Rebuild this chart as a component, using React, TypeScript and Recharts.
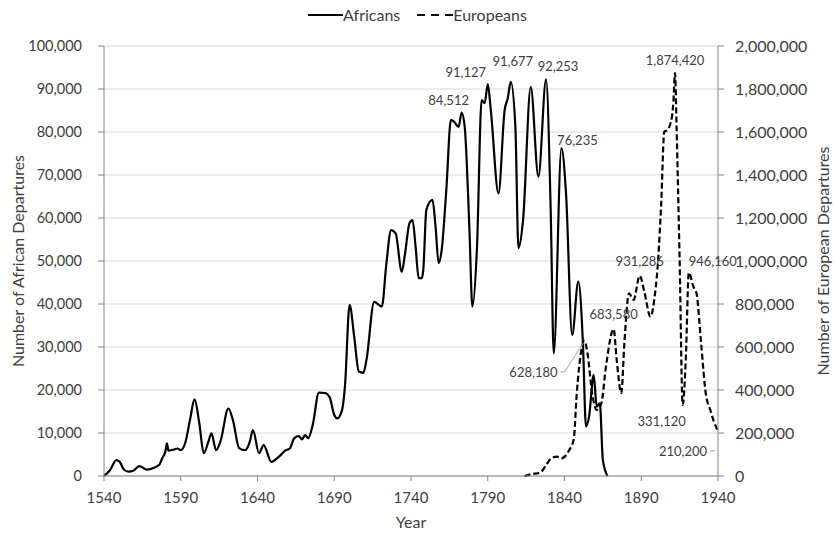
import React from 'react';
import { LineChart, Line, XAxis, YAxis, CartesianGrid, Legend, Label } from 'recharts';

// African departures (left axis)
const africanYears = [
  1540, 1544, 1548, 1550, 1553, 1556, 1559, 1563, 1568, 1573, 1576, 1578, 1580, 1581, 1582, 1585, 1588, 1590,
  1593, 1596, 1599, 1602, 1605, 1608, 1610, 1613, 1616, 1621, 1624, 1628, 1632, 1635, 1637, 1641, 1644, 1649,
  1654, 1658, 1661, 1664, 1667, 1669, 1671, 1673, 1676, 1680, 1684, 1687, 1690, 1692, 1695, 1697, 1700, 1703,
  1706, 1709, 1711, 1716, 1721, 1724, 1727, 1730, 1734, 1736, 1739, 1741, 1743, 1745, 1747, 1748, 1750, 1754,
  1756, 1758, 1760, 1763, 1766, 1768, 1771, 1773, 1775, 1778, 1780, 1783, 1786, 1788, 1790, 1792, 1797, 1801,
  1803, 1805, 1808, 1810, 1813, 1818, 1823, 1828, 1831, 1833, 1838, 1841, 1845, 1849, 1852, 1854, 1856, 1859,
  1861, 1863, 1865, 1868,
];
const africanValues = [
  0, 1400, 3700, 3400, 1500, 1000, 1200, 2300, 1500, 2000, 2600, 4200, 5700, 7600, 5900, 6100, 6400, 6000,
  7800, 13000, 17800, 12500, 5300, 8000, 9900, 6000, 8200, 15700, 13000, 6500, 6000, 8000, 10700, 5300, 7200, 3300,
  4500, 5900, 6400, 8800, 9300, 8500, 9500, 8800, 11900, 19400, 19300, 18300, 14200, 13400, 15200, 21000, 39800, 32400,
  24300, 24000, 27000, 40500, 39400, 49500, 57200, 56400, 47500, 51400, 58800, 59500, 53300, 46000, 46000, 47900, 61900, 64200,
  58000, 49500, 52600, 66500, 82800, 82400, 81200, 84512, 81200, 58000, 39400, 53300, 87400, 86700, 91127, 85100, 65700, 85100,
  87800, 91677, 81200, 53000, 59500, 90500, 69600, 92253, 61900, 28500, 76235, 65700, 32800, 45200, 30900, 11500, 13800, 23500,
  16100, 16900, 3700, 0,
];

// European departures (right axis)
const europeanYears = [
  1814, 1818, 1824, 1828, 1831, 1835, 1838, 1843, 1846, 1848, 1851, 1853, 1855, 1858, 1861, 1864, 1867, 1872,
  1874, 1877, 1879, 1882, 1885, 1889, 1892, 1896, 1899, 1901, 1903, 1905, 1907, 1910, 1911, 1912, 1913, 1915,
  1917, 1919, 1921, 1924, 1926, 1929, 1932, 1935, 1937, 1940,
];
const europeanValues = [
  0, 8000, 15000, 50000, 80000, 90000, 82000, 120000, 170000, 385000, 586000, 628180, 570000, 385000, 307000, 338000, 508000, 683580,
  540000, 385000, 617000, 850000, 819000, 931286, 857000, 741000, 850000, 1005000, 1268000, 1601000, 1609000, 1671000, 1749000, 1874420, 1625000, 1005000,
  331120, 540000, 946160, 880000, 850000, 617000, 385000, 307000, 260000, 210200,
];

const yearTicks = [1540, 1590, 1640, 1690, 1740, 1790, 1840, 1890, 1940];
const leftTicks = [0, 10000, 20000, 30000, 40000, 50000, 60000, 70000, 80000, 90000, 100000];
const rightTicks = [0, 200000, 400000, 600000, 800000, 1000000, 1200000, 1400000, 1600000, 1800000, 2000000];

const africans = africanYears.map((year, i) => ({ year, value: africanValues[i] }));
const europeans = europeanYears.map((year, i) => ({ year, value: europeanValues[i] }));

const FONT = 'Lato, "Open Sans", sans-serif';
const TEXT = '#404040';
const AXIS = '#868686';

// label offsets from the point: [dx, dy] of the text centre
const africanLabelPos: Record<number, [number, number]> = {
  84512: [-13, -13],
  91127: [-22, -12],
  91677: [2, -21],
  92253: [12, -13],
  76235: [16, -8],
};
const europeanLabelPos: Record<number, [number, number]> = {
  628180: [-51, 31],
  683580: [0, -15],
  931286: [0, -15],
  1874420: [0, -13],
  946160: [24, -12],
  331120: [-21, 16],
  210200: [-35, 20],
};

const fmt = (v: number) => v.toLocaleString('en-US');

function makeLabel(pos: Record<number, [number, number]>) {
  return (props: any) => {
    const x = props.x ?? props.viewBox?.x;
    const y = props.y ?? props.viewBox?.y;
    const value = props.value;
    const off = pos[value];
    if (!off || x == null || y == null) return <g />;
    const tx = x + off[0];
    const ty = y + off[1];
    let leader = null;
    if (value === 628180) {
      leader = <polyline points={`${tx + 27},${ty} ${tx + 31},${ty} ${x - 1},${y + 2}`} fill="none" stroke="#a6a6a6" strokeWidth={1} />;
    }
    if (value === 210200) {
      leader = <line x1={tx + 27} y1={ty} x2={tx + 32} y2={ty} stroke="#a6a6a6" strokeWidth={1} />;
    }
    return (
      <g>
        {leader}
        <text x={tx} y={ty} textAnchor="middle" dominantBaseline="central" fontSize={13} fontFamily={FONT} fill={TEXT}>
          {fmt(value)}
        </text>
      </g>
    );
  };
}

function LegendContent() {
  return (
    <div style={{ display: 'flex', justifyContent: 'center', alignItems: 'center', fontFamily: FONT, fontSize: 16, color: TEXT }}>
      <svg width={35} height={10}>
        <line x1={0} y1={5} x2={35} y2={5} stroke="#000" strokeWidth={2} />
      </svg>
      <span style={{ marginRight: 17 }}>Africans</span>
      <svg width={36} height={10}>
        <line x1={0} y1={5} x2={36} y2={5} stroke="#000" strokeWidth={2} strokeDasharray="8 6" />
      </svg>
      <span>Europeans</span>
    </div>
  );
}

export default function App() {
  return (
    <div style={{ position: 'absolute', left: 0, top: 0, width: 835, height: 536, background: '#fff' }}>
      <LineChart width={835} height={536} margin={{ top: 46, right: 0, bottom: 0, left: 0 }} style={{ fontFamily: FONT }}>
        <CartesianGrid yAxisId="left" vertical={false} stroke="#d9d9d9" />
        <XAxis
          type="number"
          dataKey="year"
          domain={[1540, 1940]}
          ticks={yearTicks}
          interval={0}
          height={60}
          tickSize={5}
          tickMargin={11}
          stroke={AXIS}
          tick={{ fill: TEXT, fontSize: 15, fontFamily: FONT }}
        >
          <Label
            content={(p: any) => {
              const vb = p.viewBox;
              return (
                <text x={vb.x + vb.width / 2} y={vb.y + 45} textAnchor="middle" dominantBaseline="central" fontSize={16} fontFamily={FONT} fill={TEXT}>
                  Year
                </text>
              );
            }}
          />
        </XAxis>
        <YAxis
          yAxisId="left"
          domain={[0, 100000]}
          ticks={leftTicks}
          interval={0}
          width={104}
          tickSize={6}
          tickMargin={16}
          stroke={AXIS}
          tickFormatter={fmt}
          tick={{ fill: TEXT, fontSize: 14.5, fontFamily: FONT }}
        >
          <Label
            content={(p: any) => {
              const vb = p.viewBox;
              const cx = vb.x + 17;
              const cy = vb.y + vb.height / 2;
              return (
                <text x={cx} y={cy} transform={`rotate(-90 ${cx} ${cy})`} textAnchor="middle" dominantBaseline="central" fontSize={16} fontFamily={FONT} fill={TEXT}>
                  Number of African Departures
                </text>
              );
            }}
          />
        </YAxis>
        <YAxis
          yAxisId="right"
          orientation="right"
          domain={[0, 2000000]}
          ticks={rightTicks}
          interval={0}
          width={117}
          tickSize={6}
          tickMargin={11}
          stroke={AXIS}
          tickFormatter={fmt}
          tick={{ fill: TEXT, fontSize: 16, fontFamily: FONT }}
        >
          <Label
            content={(p: any) => {
              const vb = p.viewBox;
              const cx = vb.x + 104;
              const cy = vb.y + vb.height / 2;
              return (
                <text x={cx} y={cy} transform={`rotate(-90 ${cx} ${cy})`} textAnchor="middle" dominantBaseline="central" fontSize={16} fontFamily={FONT} fill={TEXT}>
                  Number of European Departures
                </text>
              );
            }}
          />
        </YAxis>
        <Legend
          layout="horizontal"
          verticalAlign="middle"
          align="center"
          content={() => <LegendContent />}
          wrapperStyle={{ top: 5, left: 0, width: 835 }}
        />
        <Line
          yAxisId="left"
          name="Africans"
          data={africans}
          dataKey="value"
          type="monotone"
          stroke="#000"
          strokeWidth={2.2}
          dot={false}
          isAnimationActive={false}
          label={makeLabel(africanLabelPos)}
        />
        <Line
          yAxisId="right"
          name="Europeans"
          data={europeans}
          dataKey="value"
          type="monotone"
          stroke="#000"
          strokeWidth={2.2}
          strokeDasharray="6 3"
          dot={false}
          isAnimationActive={false}
          label={makeLabel(europeanLabelPos)}
        />
      </LineChart>
    </div>
  );
}
